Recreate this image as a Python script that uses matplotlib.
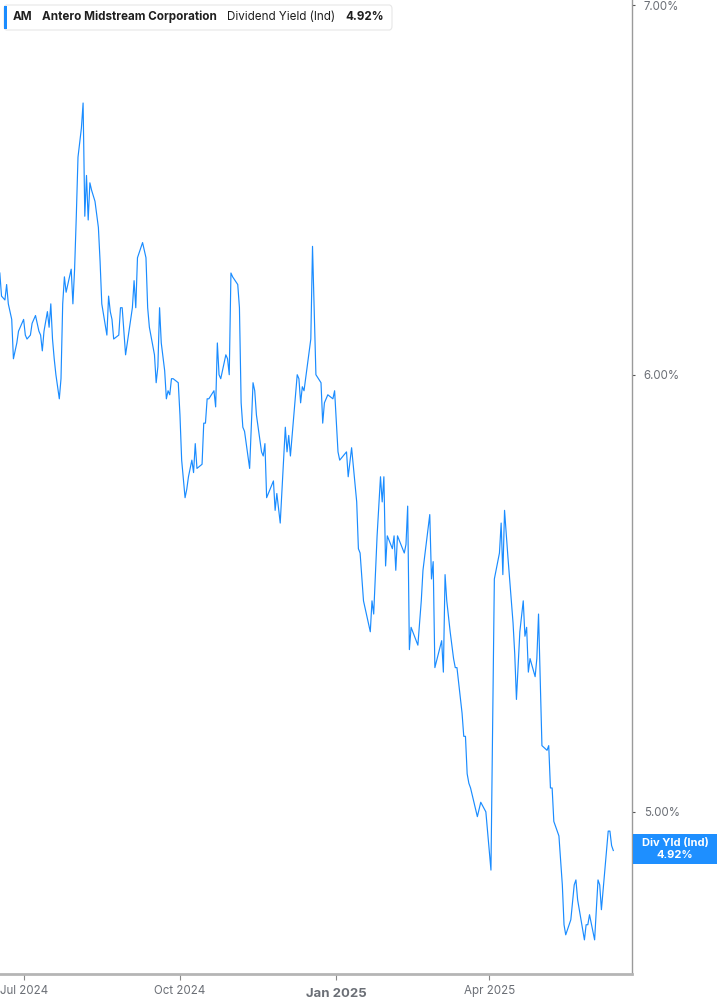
import matplotlib
matplotlib.use("Agg")
import matplotlib.pyplot as plt
from matplotlib.patches import FancyBboxPatch, Rectangle
from matplotlib.ticker import FixedLocator, FuncFormatter, NullLocator
import pandas as pd

# dividend yield (%)
dates = [
    "2024-06-17", "2024-06-18", "2024-06-20", "2024-06-21", "2024-06-22", "2024-06-24",
    "2024-06-25", "2024-06-27", "2024-06-28", "2024-06-29", "2024-07-01", "2024-07-02",
    "2024-07-03", "2024-07-05", "2024-07-06", "2024-07-08", "2024-07-09", "2024-07-10",
    "2024-07-11", "2024-07-12", "2024-07-13", "2024-07-15", "2024-07-16", "2024-07-17",
    "2024-07-18", "2024-07-19", "2024-07-20", "2024-07-22", "2024-07-23", "2024-07-24",
    "2024-07-25", "2024-07-26", "2024-07-29", "2024-07-30", "2024-07-31", "2024-08-01",
    "2024-08-02", "2024-08-04", "2024-08-05", "2024-08-06", "2024-08-07", "2024-08-08",
    "2024-08-09", "2024-08-10", "2024-08-12", "2024-08-14", "2024-08-15", "2024-08-16",
    "2024-08-19", "2024-08-20", "2024-08-21", "2024-08-22", "2024-08-23", "2024-08-26",
    "2024-08-27", "2024-08-28", "2024-08-30", "2024-08-31", "2024-09-03", "2024-09-04",
    "2024-09-05", "2024-09-06", "2024-09-09", "2024-09-11", "2024-09-12", "2024-09-13",
    "2024-09-16", "2024-09-17", "2024-09-18", "2024-09-19", "2024-09-20", "2024-09-22",
    "2024-09-23", "2024-09-24", "2024-09-25", "2024-09-26", "2024-09-27", "2024-09-30",
    "2024-10-01", "2024-10-02", "2024-10-04", "2024-10-05", "2024-10-06", "2024-10-08",
    "2024-10-09", "2024-10-10", "2024-10-11", "2024-10-14", "2024-10-15", "2024-10-16",
    "2024-10-17", "2024-10-18", "2024-10-21", "2024-10-22", "2024-10-23", "2024-10-24",
    "2024-10-25", "2024-10-28", "2024-10-29", "2024-10-30", "2024-10-31", "2024-11-01",
    "2024-11-04", "2024-11-05", "2024-11-06", "2024-11-07", "2024-11-08", "2024-11-11",
    "2024-11-13", "2024-11-14", "2024-11-15", "2024-11-18", "2024-11-19", "2024-11-20",
    "2024-11-21", "2024-11-22", "2024-11-25", "2024-11-26", "2024-11-27", "2024-11-29",
    "2024-12-02", "2024-12-03", "2024-12-04", "2024-12-05", "2024-12-09", "2024-12-10",
    "2024-12-11", "2024-12-12", "2024-12-13", "2024-12-17", "2024-12-18", "2024-12-20",
    "2024-12-23", "2024-12-24", "2024-12-25", "2024-12-27", "2024-12-30", "2024-12-31",
    "2025-01-02", "2025-01-03", "2025-01-07", "2025-01-08", "2025-01-10", "2025-01-13",
    "2025-01-14", "2025-01-15", "2025-01-17", "2025-01-21", "2025-01-22", "2025-01-23",
    "2025-01-25", "2025-01-27", "2025-01-28", "2025-01-29", "2025-01-30", "2025-01-31",
    "2025-02-03", "2025-02-04", "2025-02-05", "2025-02-06", "2025-02-08", "2025-02-10",
    "2025-02-11", "2025-02-12", "2025-02-13", "2025-02-14", "2025-02-18", "2025-02-20",
    "2025-02-21", "2025-02-25", "2025-02-26", "2025-02-27", "2025-02-28", "2025-03-04",
    "2025-03-05", "2025-03-06", "2025-03-07", "2025-03-09", "2025-03-11", "2025-03-12",
    "2025-03-13", "2025-03-16", "2025-03-17", "2025-03-18", "2025-03-19", "2025-03-20",
    "2025-03-21", "2025-03-25", "2025-03-27", "2025-03-30", "2025-04-02", "2025-04-04",
    "2025-04-07", "2025-04-08", "2025-04-09", "2025-04-10", "2025-04-12", "2025-04-15",
    "2025-04-16", "2025-04-17", "2025-04-19", "2025-04-21", "2025-04-22", "2025-04-23",
    "2025-04-24", "2025-04-25", "2025-04-28", "2025-04-29", "2025-04-30", "2025-05-02",
    "2025-05-05", "2025-05-06", "2025-05-07", "2025-05-08", "2025-05-09", "2025-05-12",
    "2025-05-14", "2025-05-15", "2025-05-16", "2025-05-19", "2025-05-21", "2025-05-22",
    "2025-05-23", "2025-05-27", "2025-05-28", "2025-05-29", "2025-05-30", "2025-06-02",
    "2025-06-04", "2025-06-05", "2025-06-06", "2025-06-08", "2025-06-10", "2025-06-11",
    "2025-06-12", "2025-06-13",
]
yield_pct = [
    6.26, 6.20, 6.19, 6.23, 6.18, 6.14,
    6.04, 6.08, 6.11, 6.12, 6.14, 6.10,
    6.09, 6.10, 6.13, 6.15, 6.13, 6.11,
    6.10, 6.06, 6.11, 6.16, 6.12, 6.18,
    6.09, 6.04, 6.00, 5.94, 5.99, 6.18,
    6.25, 6.21, 6.27, 6.18, 6.27, 6.41,
    6.57, 6.65, 6.72, 6.41, 6.52, 6.40,
    6.50, 6.48, 6.45, 6.38, 6.29, 6.18,
    6.10, 6.20, 6.16, 6.14, 6.09, 6.10,
    6.17, 6.17, 6.05, 6.08, 6.17, 6.24,
    6.17, 6.30, 6.34, 6.30, 6.17, 6.12,
    6.05, 5.98, 6.02, 6.17, 6.08, 6.01,
    5.94, 5.96, 5.95, 5.99, 5.99, 5.98,
    5.90, 5.79, 5.70, 5.72, 5.75, 5.79,
    5.76, 5.83, 5.77, 5.78, 5.88, 5.88,
    5.94, 5.94, 5.96, 5.92, 6.08, 6.00,
    5.99, 6.05, 6.04, 6.00, 6.26, 6.25,
    6.23, 6.17, 5.93, 5.87, 5.86, 5.77,
    5.98, 5.96, 5.90, 5.81, 5.80, 5.83,
    5.70, 5.71, 5.74, 5.67, 5.71, 5.64,
    5.87, 5.81, 5.85, 5.80, 6.00, 5.99,
    5.93, 5.97, 5.96, 6.09, 6.33, 6.00,
    5.98, 5.88, 5.93, 5.95, 5.94, 5.96,
    5.81, 5.79, 5.81, 5.75, 5.82, 5.69,
    5.58, 5.57, 5.46, 5.39, 5.46, 5.43,
    5.61, 5.75, 5.69, 5.75, 5.54, 5.61,
    5.58, 5.61, 5.53, 5.61, 5.59, 5.57,
    5.59, 5.68, 5.35, 5.40, 5.36, 5.46,
    5.53, 5.66, 5.51, 5.55, 5.31, 5.37,
    5.30, 5.52, 5.46, 5.39, 5.33, 5.31,
    5.31, 5.21, 5.16, 5.16, 5.08, 5.06,
    5.05, 4.99, 5.02, 5.00, 4.88, 5.51,
    5.57, 5.64, 5.52, 5.67, 5.56, 5.41,
    5.34, 5.24, 5.39, 5.46, 5.38, 5.40,
    5.30, 5.33, 5.29, 5.33, 5.43, 5.14,
    5.13, 5.14, 5.05, 5.05, 4.98, 4.95,
    4.85, 4.77, 4.75, 4.78, 4.85, 4.86,
    4.82, 4.74, 4.77, 4.77, 4.79, 4.74,
    4.86, 4.85, 4.80, 4.88, 4.96, 4.96,
    4.93, 4.92,
]

tick_dates = ["2024-07-01", "2024-10-01", "2025-01-01", "2025-04-01"]
tick_labels = ["Jul 2024", "Oct 2024", "Jan 2025", "Apr 2025"]
y_ticks = [5.0, 6.0, 7.0]

ticker = "AM"
company = "Antero Midstream Corporation"
metric = "Dividend Yield (Ind)"
last_label = "4.92%"

BLUE = "#1a8cff"
GREY = "#6b6f76"

plt.rcParams["font.family"] = ["Inter", "DejaVu Sans"]

fig = plt.figure(figsize=(7.17, 10.05), dpi=100)
ax = fig.add_axes([0.0, 31 / 1005, 632 / 717, 974 / 1005])

x = pd.to_datetime(dates)
ax.plot(x, yield_pct, color=BLUE, lw=0.85)

ax.set_yscale("log")
ax.set_ylim(4.673, 7.015)
ax.set_xlim(pd.Timestamp("2024-06-17 02:30"), pd.Timestamp("2025-06-24"))

ax.yaxis.tick_right()
ax.yaxis.set_major_locator(FixedLocator(y_ticks))
ax.yaxis.set_minor_locator(NullLocator())
ax.yaxis.set_major_formatter(FuncFormatter(lambda v, p: f"{v:.2f}%"))
ax.tick_params(axis="y", which="major", length=2.5, width=0.8, color="#555555",
               labelsize=8.3, labelcolor=GREY, pad=6)

ax.set_xticks(pd.to_datetime(tick_dates))
ax.set_xticklabels(tick_labels)
ax.tick_params(axis="x", length=4, width=0.8, color="#888888", labelsize=8.3,
               labelcolor=GREY, pad=4)
for lab in ax.get_xticklabels():
    if lab.get_text() == "Jan 2025":
        lab.set_fontweight("bold")
        lab.set_fontsize(9.5)
        lab.set_y(-0.003)

for s in ["top", "left"]:
    ax.spines[s].set_visible(False)
ax.spines["right"].set_color("#9a9a9a")
ax.spines["right"].set_linewidth(1.0)
ax.spines["bottom"].set_color("#b5b5b5")
ax.spines["bottom"].set_linewidth(2.0)

# legend header box
fig.patches.append(FancyBboxPatch((4 / 717, 1 - 30 / 1005), 388 / 717, 25 / 1005,
                                  boxstyle="round,pad=0,rounding_size=0.004",
                                  transform=fig.transFigure, facecolor="white",
                                  edgecolor="#e6e6e6", lw=0.8, zorder=5))
fig.patches.append(Rectangle((4 / 717, 1 - 29 / 1005), 3 / 717, 23 / 1005,
                             transform=fig.transFigure, facecolor=BLUE,
                             edgecolor="none", zorder=6))
ty = 1 - 17 / 1005
fs = 8.4
fig.text(13 / 717, ty, ticker, fontsize=fs, fontweight="bold", color="#1f1f1f",
         va="center", zorder=7)
fig.text(42 / 717, ty, company, fontsize=fs, fontweight="bold", color="#1f1f1f",
         va="center", zorder=7)
fig.text(227 / 717, ty, metric, fontsize=fs, color="#1f1f1f", va="center", zorder=7)
fig.text(345 / 717, ty, last_label, fontsize=fs, fontweight="bold", color="#1f1f1f",
         va="center", zorder=7)

# last value tag on the right
fig.patches.append(Rectangle((633 / 717, 1 - 864 / 1005), 84 / 717, 30 / 1005,
                             transform=fig.transFigure, facecolor="#1e8fff",
                             edgecolor="none", zorder=5))
fig.text(675 / 717, 1 - 843 / 1005, "Div Yld (Ind)", fontsize=8, fontweight="bold",
         color="white", ha="center", va="center", zorder=6)
fig.text(675 / 717, 1 - 855 / 1005, last_label, fontsize=8, fontweight="bold",
         color="white", ha="center", va="center", zorder=6)

fig.savefig("out.png", dpi=100, facecolor="white")
